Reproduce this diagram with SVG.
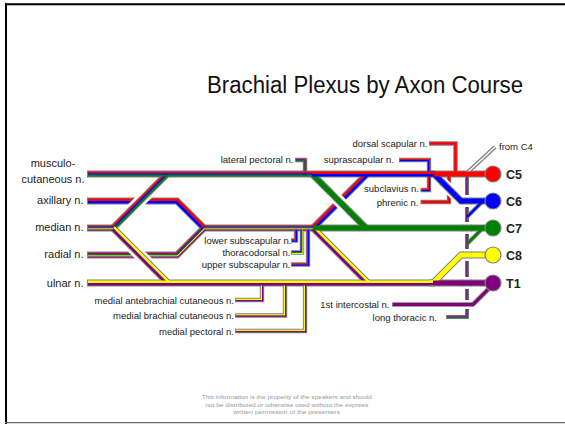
<svg xmlns="http://www.w3.org/2000/svg" width="565" height="424" viewBox="0 0 565 424">
<style>
  .o{fill:none;stroke:#808080}
  .s{fill:none}
  .R{stroke:#f00}.B{stroke:#00f}.G{stroke:#008000}.Y{stroke:#ff0}.P{stroke:#800080}
  .w7{stroke-width:7}.w5{stroke-width:5}.w25{stroke-width:2.5}.w17{stroke-width:1.7}.w1{stroke-width:1.05}
  .t44{stroke-width:4.4}.t4{stroke-width:4}.t26{stroke-width:2.6}.t12{stroke-width:1.2}.t09{stroke-width:0.9}.t08{stroke-width:0.8}
  .halo{fill:none;stroke:#fff}
  text{font-family:"Liberation Sans",Arial,sans-serif;fill:#222}
  .lab{font-size:9.5px;text-anchor:end}
  .big{font-size:11px;text-anchor:end}
  .root{font-size:12.5px;font-weight:bold;fill:#000}
  .root circle{stroke:#808080;stroke-width:1.2}
</style>
<rect width="565" height="424" fill="#fff"/>

<!-- slide frame -->
<g id="frame" fill="none">
  <path d="M5,4.3 H565" stroke="#000" stroke-width="2"/>
  <path d="M6,3.3 V424" stroke="#000" stroke-width="2"/>
  <path d="M5,422.6 H565" stroke="#666" stroke-width="1.4"/>
</g>

<g id="title">
  <text x="207" y="93" font-family="Lato,'Open Sans',sans-serif" font-weight="300" font-size="23" textLength="316" lengthAdjust="spacingAndGlyphs" style="fill:#111">Brachial Plexus by Axon Course</text>
</g>

<g id="connectors">
  <!-- gray casing of every cable -->
  <g class="o">
    <path class="t4" d="M468,172 L495,147"/>
    <path class="t44" d="M295,160 H305 V174"/>
    <path class="t44" d="M399,160 H429 V190 H420.5"/>
    <path class="t44" d="M429,143.5 H455.5 V174"/>
    <path class="t44" d="M420.5,202 H449 V174"/>
    <path class="t4" d="M446,317 H467 V174"/>
    <path class="t4" d="M485,199 L467,217"/>
    <path class="t4" d="M485,226 L467,244"/>
    <path style="stroke-width:4.6" d="M392,304.5 H473 L493,284.5"/>
    <path class="t44" d="M291,240.5 H296 V228"/>
    <path class="t44" d="M291,252.5 H302 V228"/>
    <path class="t44" d="M291,264.5 H308 V228"/>
    <path class="t44" d="M235,300 H262 V283"/>
    <path class="t44" d="M235,315.5 H285 V283"/>
    <path class="t44" d="M235,331 H305 V283"/>

    <path class="w7" d="M87,174 H493"/>
    <path class="w7" d="M430,174 H434 L461,201 H493"/>
    <path class="w7" d="M312,174 L366,228"/>
    <path class="w7" d="M204,228 H493"/>
    <path class="w7" d="M313,228 L367,174"/>
    <path class="w7" d="M313,228 L368,283"/>
    <path class="w7" d="M87,201 H177 L204,228"/>
    <path class="w7" d="M87,255 H177 L204,228"/>
    <path class="w7" d="M87,228 H113"/>
    <path class="w7" d="M113,228 L167,174"/>
    <path class="w7" d="M113,228 L168,283"/>
    <path class="w7" d="M87,283 H493"/>
    <path class="w7" d="M429,283 H433 L461,255 H493"/>
  </g>

  <!-- branch strands -->
  <g class="s">
    <path stroke="#f4f4f4" stroke-width="1.6" d="M468,172 L495,147"/>
    <!-- lateral pectoral -->
    <path class="R t09" d="M296,159.1 H305.9 V174"/>
    <path class="B t09" d="M296,160 H305 V174"/>
    <path class="G t09" d="M296,160.9 H304.1 V174"/>
    <!-- suprascapular / subclavius -->
    <path class="R t12" d="M400,159.4 H429.6 V174"/>
    <path class="B t12" d="M400,160.6 H428.4 V174"/>
    <path class="R t12" d="M421.5,189.4 H428.4 V174"/>
    <path class="B t12" d="M421.5,190.6 H429.6 V174"/>
    <!-- dorsal scapular, phrenic -->
    <path class="R t26" d="M430,143.5 H455.5 V174"/>
    <path class="R t26" d="M421.5,202 H449 V174"/>
    <!-- long thoracic -->
    <path class="R t08" d="M447,316.2 H466.2 V174"/>
    <path class="B t08" d="M447,317 H467 V174"/>
    <path class="G t08" d="M447,317.8 H467.8 V174"/>
    <path class="B" stroke-width="2.4" d="M485,199 L467,217"/>
    <path class="G" stroke-width="2.4" d="M485,226 L467,244"/>
    <!-- 1st intercostal -->
    <path class="P" stroke-width="3" d="M393,304.5 H473 L493,284.5"/>
    <!-- posterior cord branches -->
    <path class="R t12" d="M292,239.9 H295.4 V228"/>
    <path class="B t12" d="M292,241.1 H296.6 V228"/>
    <path class="B t09" d="M292,251.6 H301.1 V228"/>
    <path class="G t09" d="M292,252.5 H302 V228"/>
    <path class="Y t09" d="M292,253.4 H302.9 V228"/>
    <path class="R t12" d="M292,263.9 H307.4 V228"/>
    <path class="B t12" d="M292,265.1 H308.6 V228"/>
    <!-- medial cord branches -->
    <path class="Y t12" d="M236,299.4 H261.4 V283"/>
    <path class="P t12" d="M236,300.6 H262.6 V283"/>
    <path class="Y t12" d="M236,314.9 H284.4 V283"/>
    <path class="P t12" d="M236,316.1 H285.6 V283"/>
    <path class="Y t12" d="M236,330.4 H304.4 V283"/>
    <path class="P t12" d="M236,331.6 H305.6 V283"/>
  </g>

  <!-- trunk, division and cord strands -->
  <g class="s">
    <!-- lateral root of median -->
    <path class="R w17" d="M111.82,226.82 L165.82,172.82"/>
    <path class="B w17" d="M113,228 L167,174"/>
    <path class="G w17" d="M114.18,229.18 L168.18,175.18"/>
    <!-- medial root of median -->
    <path class="Y w25" d="M113.88,227.12 L168.88,282.12"/>
    <path class="P w25" d="M112.12,228.88 L167.12,283.88"/>
    <!-- axillary -->
    <path class="R w25" d="M88,199.75 H177.52 L204.88,227.12"/>
    <path class="B w25" d="M88,202.25 H176.48 L203.12,228.88"/>
    <!-- radial -->
    <path class="R w1" d="M88,253 H176.17 L202.59,226.59"/>
    <path class="B w1" d="M88,254 H176.59 L203.29,227.29"/>
    <path class="G w1" d="M88,255 H177 L204,228"/>
    <path class="Y w1" d="M88,256 H177.41 L204.71,228.71"/>
    <path class="P w1" d="M88,257 H177.83 L205.41,229.41"/>
    <!-- divisions -->
    <path class="G w5" d="M312,174 L366,228"/>
    <path class="R w25" d="M312.12,227.12 L366.12,173.12"/>
    <path class="B w25" d="M313.88,228.88 L367.88,174.88"/>
    <path class="Y w25" d="M313.88,227.12 L368.88,282.12"/>
    <path class="P w25" d="M312.12,228.88 L367.12,283.88"/>
    <!-- roots -->
    <path class="B w5" d="M430,174 H434 L461,201 H493"/>
    <path class="Y w5" d="M429,283 H433 L461,255 H493"/>
    <path class="G w5" d="M313,228 H493"/>
    <path class="P w5" d="M433,283 H493"/>
    <path class="R w5" d="M434,174 H493"/>
    <!-- lateral cord / musculocutaneous -->
    <path class="R w17" d="M88,172.33 H312"/>
    <path class="B w17" d="M88,174 H312"/>
    <path class="G w17" d="M88,175.67 H312"/>
    <!-- upper trunk -->
    <path class="R w25" d="M312,172.75 H434"/>
    <path class="B w25" d="M312,175.25 H434"/>
    <!-- posterior cord -->
    <path class="R w1" d="M204,226 H313"/>
    <path class="B w1" d="M204,227 H313"/>
    <path class="G w1" d="M204,228 H313"/>
    <path class="Y w1" d="M204,229 H313"/>
    <path class="P w1" d="M204,230 H313"/>
    <!-- median -->
    <path class="R w1" d="M88,226 H113"/>
    <path class="B w1" d="M88,227 H113"/>
    <path class="G w1" d="M88,228 H113"/>
    <path class="Y w1" d="M88,229 H113"/>
    <path class="P w1" d="M88,230 H113"/>
    <!-- medial cord / ulnar -->
    <path class="Y w25" d="M88,281.75 H433"/>
    <path class="P w25" d="M88,284.25 H433"/>
  </g>

  <!-- crossings: the upper cable is laid again over a white gap -->
  <g class="crossings">
    <path class="halo" stroke-width="12" d="M131.16,209.84 L148.84,192.16"/>
    <path class="o w7" d="M130.1,210.9 L149.9,191.1"/>
    <path class="s R w17" d="M128.92,209.72 L148.72,189.92"/>
    <path class="s B w17" d="M130.1,210.9 L149.9,191.1"/>
    <path class="s G w17" d="M131.28,212.08 L151.08,192.28"/>

    <path class="halo" stroke-width="12" d="M131.16,246.16 L148.84,263.84"/>
    <path class="o w7" d="M130.1,245.1 L149.9,264.9"/>
    <path class="s Y w25" d="M130.98,244.22 L150.78,264.02"/>
    <path class="s P w25" d="M129.22,245.98 L149.02,265.78"/>

    <path class="halo" stroke-width="12" d="M330.66,192.66 L348.34,210.34"/>
    <path class="o w7" d="M329.6,191.6 L349.4,211.4"/>
    <path class="s G w5" d="M329.6,191.6 L349.4,211.4"/>

    <path class="halo" stroke-width="11" d="M443.34,183.34 L454.66,194.66"/>
    <path class="o w7" d="M442,182 L456,196"/>
    <path class="s B w5" d="M442,182 L456,196"/>

    <path class="halo" stroke-width="12" d="M463,201 H471 M463,228 H471 M463,255 H471 M463,283 H471"/>
    <path class="o w7" d="M462,201 H472 M462,228 H472 M462,255 H472 M462,283 H472"/>
    <path class="s B w5" d="M462,201 H472"/>
    <path class="s G w5" d="M462,228 H472"/>
    <path class="s Y w5" d="M462,255 H472"/>
    <path class="s P w5" d="M462,283 H472"/>
    <path class="halo" stroke-width="9" d="M464,304.5 H470"/>
    <path class="o" stroke-width="4.6" d="M463,304.5 H471"/>
    <path class="s P" stroke-width="3" d="M463,304.5 H471"/>
  </g>
</g>

<!-- spinal roots -->
<g id="root-C5" class="root"><circle cx="493" cy="174" r="8" fill="#f00"/><text x="506" y="178.5">C5</text></g>
<g id="root-C6" class="root"><circle cx="493" cy="201" r="8" fill="#00f"/><text x="506" y="205.5">C6</text></g>
<g id="root-C7" class="root"><circle cx="493" cy="228" r="8" fill="#008000"/><text x="506" y="232.5">C7</text></g>
<g id="root-C8" class="root"><circle cx="493" cy="255" r="8" fill="#ff0"/><text x="506" y="259.5">C8</text></g>
<g id="root-T1" class="root"><circle cx="493" cy="283" r="8" fill="#800080"/><text x="506" y="287.5">T1</text></g>

<!-- terminal nerves -->
<g id="musculocutaneous"><text class="big" x="53" y="167.3" style="text-anchor:middle">musculo-</text><text class="big" x="53" y="182.7" style="text-anchor:middle">cutaneous n.</text></g>
<g id="axillary"><text class="big" x="83.5" y="204.3">axillary n.</text></g>
<g id="median"><text class="big" x="83.5" y="231">median n.</text></g>
<g id="radial"><text class="big" x="83.5" y="258.3">radial n.</text></g>
<g id="ulnar"><text class="big" x="83.5" y="286.5">ulnar n.</text></g>

<!-- branch nerves -->
<g id="lateral-pectoral"><text class="lab" x="293.5" y="163.3">lateral pectoral n.</text></g>
<g id="suprascapular"><text class="lab" x="394" y="163.3">suprascapular n.</text></g>
<g id="dorsal-scapular"><text class="lab" x="427.5" y="147">dorsal scapular n.</text></g>
<g id="subclavius"><text class="lab" x="419" y="192">subclavius n.</text></g>
<g id="phrenic"><text class="lab" x="418.5" y="205.5">phrenic n.</text></g>
<g id="from-c4"><text x="499" y="149.5" style="font-size:9.5px">from C4</text></g>
<g id="lower-subscapular"><text class="lab" x="291.5" y="243.8">lower subscapular n.</text></g>
<g id="thoracodorsal"><text class="lab" x="290.5" y="255.8">thoracodorsal n.</text></g>
<g id="upper-subscapular"><text class="lab" x="290.5" y="267.8">upper subscapular n.</text></g>
<g id="medial-antebrachial-cutaneous"><text class="lab" x="234" y="303.5">medial antebrachial cutaneous n.</text></g>
<g id="medial-brachial-cutaneous"><text class="lab" x="234" y="319">medial brachial cutaneous n.</text></g>
<g id="medial-pectoral"><text class="lab" x="234" y="334.5">medial pectoral n.</text></g>
<g id="first-intercostal"><text class="lab" x="389.5" y="307.8">1st intercostal n.</text></g>
<g id="long-thoracic"><text class="lab" x="437" y="320.8">long thoracic n.</text></g>

<g id="notice" style="font-family:Lato,'Open Sans',sans-serif;font-size:5.8px;text-anchor:middle">
  <text x="286.7" y="399" textLength="170" lengthAdjust="spacingAndGlyphs" style="fill:#999">This information is the property of the speakers and should</text>
  <text x="286.7" y="406.5" textLength="163" lengthAdjust="spacingAndGlyphs" style="fill:#999">not be distributed or otherwise used without the express</text>
  <text x="286.7" y="414" textLength="107" lengthAdjust="spacingAndGlyphs" style="fill:#999">written permission of the presenters</text>
</g>
</svg>
